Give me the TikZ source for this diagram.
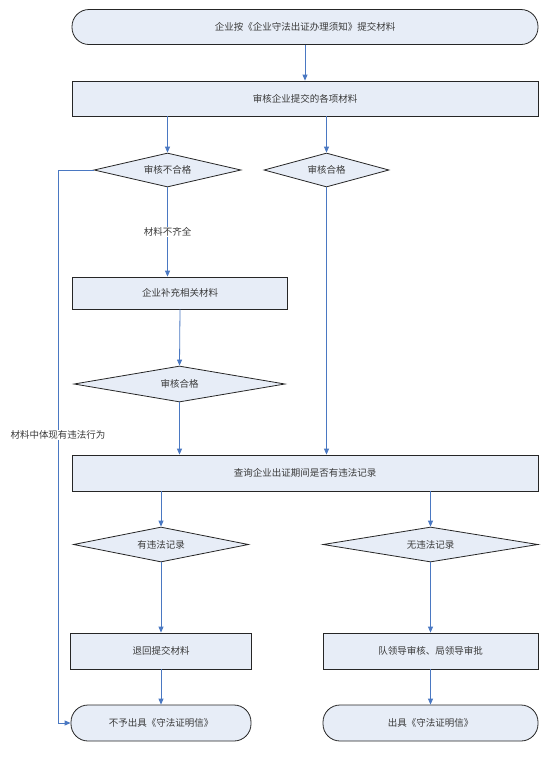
\documentclass[tikz,border=0pt]{standalone}
\usepackage{fontspec}
\newfontfamily\cjk{Noto Sans CJK SC}
\usetikzlibrary{shapes.geometric,arrows.meta}
\definecolor{boxfill}{HTML}{E7EDF7}
\definecolor{arrowblue}{HTML}{4A78C2}
\definecolor{txt}{HTML}{3A3A3A}
\tikzset{
  base/.style={draw=black!85, line width=0.8pt, fill=boxfill, inner sep=0pt,
    font=\cjk\fontsize{9.5}{11}\selectfont, text=txt},
  procbox/.style={base, rectangle},
  termbox/.style={base, rectangle, rounded corners=17pt},
  decbox/.style={base, diamond, aspect=4},
  flow/.style={draw=arrowblue, line width=0.8pt, -{Triangle[length=6pt,width=5pt]}},
  lbl/.style={fill=white, inner sep=1pt, font=\cjk\fontsize{9.5}{11}\selectfont, text=txt}
}
\begin{document}
\begin{tikzpicture}[x=1pt,y=-1pt]
\useasboundingbox (0,0) rectangle (558,761);
\node[termbox, minimum width=466pt, minimum height=35pt] (t1) at (305,27) {企业按《企业守法出证办理须知》提交材料};
\node[procbox, minimum width=466pt, minimum height=35pt] (b2) at (305,98.5) {审核企业提交的各项材料};
\node[decbox, minimum width=147pt, minimum height=34pt] (d1) at (167.5,170) {审核不合格};
\node[decbox, minimum width=125pt, minimum height=34pt] (d2) at (326.5,170) {审核合格};
\node[procbox, minimum width=215pt, minimum height=32pt] (b3) at (180,293) {企业补充相关材料};
\node[decbox, minimum width=211pt, minimum height=36pt] (d3) at (179.5,384) {审核合格};
\node[procbox, minimum width=466pt, minimum height=36pt] (b4) at (305,473) {查询企业出证期间是否有违法记录};
\node[decbox, minimum width=175pt, minimum height=35pt] (d4) at (161,544.5) {有违法记录};
\node[decbox, minimum width=215pt, minimum height=35pt] (d5) at (430.5,544.5) {无违法记录};
\node[procbox, minimum width=181pt, minimum height=36pt] (b5) at (161,651) {退回提交材料};
\node[procbox, minimum width=215pt, minimum height=36pt] (b6) at (430.5,651) {队领导审核、局领导审批};
\node[termbox, minimum width=180pt, minimum height=36pt] (t2) at (161,723) {不予出具《守法证明信》};
\node[termbox, minimum width=215pt, minimum height=36pt] (t3) at (430.5,723) {出具《守法证明信》};
\coordinate (cl1) at (58,170);
\coordinate (cl2) at (58,723);

\draw[flow] (t1.south) -- (b2.north);
\draw[flow] (b2.south -| d1.north) -- (d1.north);
\draw[flow] (b2.south -| d2.north) -- (d2.north);
\draw[flow] (d1.south) -- node[lbl, pos=0.5] {材料不齐全} (d1.south |- b3.north);
\draw[flow] (b3.south) -- (d3.north);
\draw[flow] (d3.south) -- (d3.south |- b4.north);
\draw[flow] (d2.south) -- (d2.south |- b4.north);
\draw[flow] (d1.west) -- (cl1) -- node[lbl, pos=0.479] {材料中体现有违法行为} (cl2) -- (t2.west);
\draw[flow] (b4.south -| d4.north) -- (d4.north);
\draw[flow] (b4.south -| d5.north) -- (d5.north);
\draw[flow] (d4.south) -- (b5.north);
\draw[flow] (d5.south) -- (b6.north);
\draw[flow] (b5.south) -- (t2.north);
\draw[flow] (b6.south) -- (t3.north);
\end{tikzpicture}
\end{document}
